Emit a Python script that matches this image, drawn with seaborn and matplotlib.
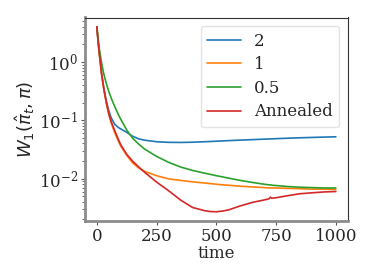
import numpy as np
import pandas as pd
import matplotlib
matplotlib.use("Agg")
import matplotlib.pyplot as plt
import seaborn as sns

# values
time = [0, 5, 10, 20, 30, 40, 50, 60, 75, 90, 100, 125, 150, 175, 200,
        250, 300, 350, 400, 450, 475, 500, 525, 550, 600, 650, 700, 720,
        726, 732, 750, 800, 850, 900, 950, 1000]

w_2 = [4.0, 2.3, 1.45, 0.62, 0.34, 0.21, 0.145, 0.11, 0.085, 0.075, 0.071,
       0.062, 0.053, 0.048, 0.0455, 0.0428, 0.0418, 0.0416, 0.042, 0.0428,
       0.0432, 0.0437, 0.0442, 0.0447, 0.0456, 0.0465, 0.0474, 0.0477,
       0.0478, 0.0479, 0.0483, 0.0492, 0.05, 0.0507, 0.0514, 0.052]

w_1 = [4.0, 2.3, 1.4, 0.6, 0.32, 0.19, 0.125, 0.09, 0.061, 0.044, 0.036,
       0.025, 0.0185, 0.0152, 0.0133, 0.0112, 0.0099, 0.0093, 0.0088,
       0.0084, 0.0082, 0.008, 0.0078, 0.0077, 0.0074, 0.0072, 0.007,
       0.0069, 0.0069, 0.0069, 0.0069, 0.0068, 0.0067, 0.0066, 0.0066,
       0.0065]

w_05 = [4.0, 2.5, 1.7, 0.95, 0.6, 0.42, 0.31, 0.24, 0.17, 0.125, 0.104,
        0.068, 0.049, 0.039, 0.032, 0.024, 0.019, 0.0158, 0.0138, 0.0124,
        0.0118, 0.0112, 0.0107, 0.0102, 0.0093, 0.0086, 0.008, 0.0078,
        0.0078, 0.0077, 0.0076, 0.0073, 0.0071, 0.007, 0.0069, 0.0069]

w_annealed = [4.0, 2.3, 1.45, 0.62, 0.33, 0.2, 0.13, 0.095, 0.066, 0.047,
              0.038, 0.026, 0.0199, 0.0158, 0.0128, 0.0087, 0.0062, 0.0043,
              0.0032, 0.00282, 0.00272, 0.0027, 0.00277, 0.0029, 0.0034,
              0.0039, 0.0043, 0.0045, 0.0048, 0.0046, 0.0047, 0.0051,
              0.0055, 0.0057, 0.0059, 0.006]

labels = ["2", "1", "0.5", "Annealed"]


def main():
    series = [w_2, w_1, w_05, w_annealed]
    frames = []
    for lab, vals in zip(labels, series):
        frames.append(pd.DataFrame({"time": time, "W": vals, "run": lab}))
    df = pd.concat(frames, ignore_index=True)

    sns.set_style("white")
    plt.rcParams["font.family"] = ["DejaVu Serif"]
    plt.rcParams["mathtext.fontset"] = "dejavusans"

    fig = plt.figure(figsize=(3.74, 2.8), dpi=100)
    ax = fig.add_axes([0.227, 0.2107, 0.703, 0.7268])

    sns.lineplot(data=df, x="time", y="W", hue="run", hue_order=labels,
                 palette=sns.color_palette("tab10", 4), linewidth=1.2, ax=ax)
    ax.set_yscale("log")
    ax.set_xticks([0, 250, 500, 750, 1000])
    ax.set_xlabel("time", fontsize=12, labelpad=0)
    ax.set_ylabel(r"$W_1(\hat{\pi}_t, \pi)$", fontsize=13, labelpad=1)
    ax.tick_params(axis="both", which="major", labelsize=12, length=3,
                   width=0.8, color="#555555", pad=2, bottom=True, left=True)
    ax.tick_params(axis="y", which="minor", length=2, width=0.6,
                   color="#555555", left=True)

    for side in ["left", "bottom"]:
        ax.spines[side].set_color("#8c8c8c")
        ax.spines[side].set_linewidth(2)
    for side in ["top", "right"]:
        ax.spines[side].set_color("#333333")
        ax.spines[side].set_linewidth(0.8)

    leg = ax.legend(fontsize=12, loc="upper right", handlelength=2.0,
                    frameon=True, borderpad=0.4, labelspacing=0.4)
    leg.get_frame().set_edgecolor("#dddddd")
    for line in leg.get_lines():
        line.set_linewidth(1.2)

    fig.savefig("out.png", dpi=100)


if __name__ == "__main__":
    main()
